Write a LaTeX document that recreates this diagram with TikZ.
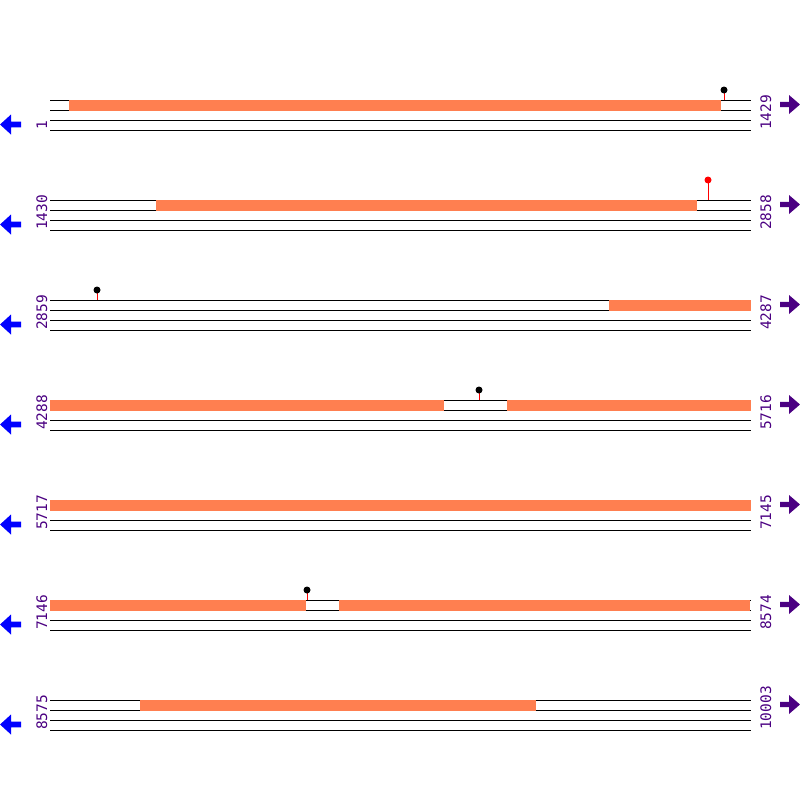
\documentclass[tikz,border=0pt]{standalone}
\usepackage{fontspec}
\newfontfamily\monofont{DejaVu Sans Mono}
\definecolor{coralfill}{RGB}{255,127,80}
\definecolor{indigolab}{RGB}{75,0,130}
\definecolor{bluearrow}{RGB}{0,0,255}
\definecolor{stickred}{RGB}{255,0,0}
\tikzset{
  rule/.style={line width=1pt, black},
  seg/.style={fill=coralfill, draw=none},
  numlab/.style={rotate=90, anchor=base west, inner sep=0pt, text=indigolab, font=\monofont\fontsize{14.5}{14.5}\selectfont},
  stick/.style={line width=1pt, stickred},
  lolhead/.style={circle, inner sep=0pt, minimum size=7pt, fill=black, draw=none},
  redhead/.style={circle, inner sep=0pt, minimum size=7pt, fill=stickred, draw=none},
  leftarrow/.style={fill=bluearrow, draw=none},
  rightarrow/.style={fill=indigolab, draw=none}
}
\begin{document}
\begin{tikzpicture}[x=1pt,y=-1pt]
\useasboundingbox (0,0) rectangle (800,800);
\fill[white] (0,0) rectangle (800,800);
% rows
\foreach \b/\l/\r [count=\i] in {100/1/1429,200/1430/2858,300/2859/4287,400/4288/5716,500/5717/7145,600/7146/8574,700/8575/10003}{
  \foreach \dy in {0,10,20,30}{
    \draw[rule] (50,\b+\dy) -- (751,\b+\dy);
  }
  \node[numlab] (L\i) at (47,\b+30) {\l};
  \node[numlab] (R\i) at (771,\b+30) {\r};
  % left arrow
  \fill[leftarrow] (0,\b+24.5) -- (11,\b+14.5) -- (11,\b+21.7) -- (21,\b+21.7) -- (21,\b+27.3) -- (11,\b+27.3) -- (11,\b+34.5) -- cycle;
  % right arrow
  \fill[rightarrow] (800,\b+4.5) -- (789,\b-5) -- (789,\b+1.8) -- (780,\b+1.8) -- (780,\b+7.2) -- (789,\b+7.2) -- (789,\b+14) -- cycle;
}
% coral segments
\foreach \b/\xa/\xb in {100/69/721,200/156/697,300/609/751,400/50/444,400/507/751,500/50/751,600/50/306,600/339/749.5,700/140/536}{
  \fill[seg] (\xa,\b-0.5) rectangle (\xb,\b+10.5);
}
% lollipops
\foreach \x/\b [count=\j] in {724/100,97/300,479/400,307/600}{
  \draw[stick] (\x,\b) -- (\x,\b-10);
  \node[lolhead] (P\j) at (\x,\b-10) {};
}
\draw[stick] (708,200) -- (708,180);
\node[redhead] (P5) at (708,180) {};
\end{tikzpicture}
\end{document}
